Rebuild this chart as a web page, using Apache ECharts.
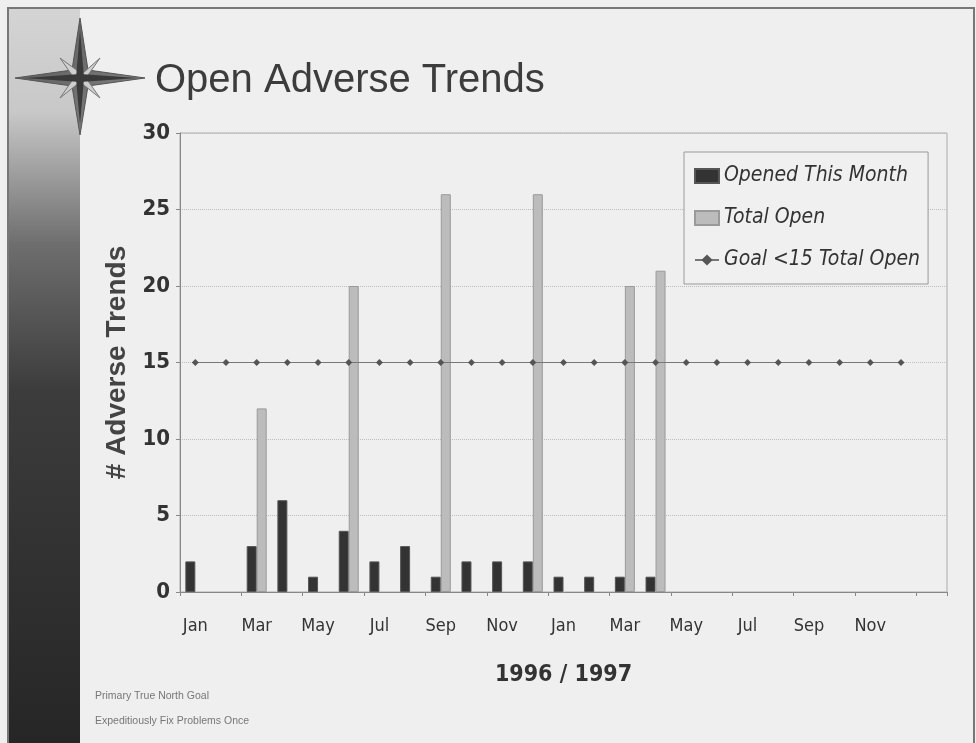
<!DOCTYPE html>
<html>
<head>
<meta charset="utf-8">
<script src="https://cdn.jsdelivr.net/npm/echarts@6/dist/echarts.min.js"></script>
<style>
html,body{margin:0;padding:0;background:#efefef;}
#chart{width:976px;height:743px;}
</style>
</head>
<body>
<div id="chart"></div>
<script>
// Data (Jan 1996 - Dec 1997, plus one empty slot)
const months = ['Jan','Feb','Mar','Apr','May','Jun','Jul','Aug','Sep','Oct','Nov','Dec',
                'Jan','Feb','Mar','Apr','May','Jun','Jul','Aug','Sep','Oct','Nov','Dec',''];
const openedThisMonth = [2,null,3,6,1,4,2,3,1,2,2,2, 1,1,1,1,null,null,null,null,null,null,null,null,null];
const totalOpen = [null,null,12,null,null,20,null,null,26,null,null,26, null,null,20,21,null,null,null,null,null,null,null,null,null];
const goal = [15,15,15,15,15,15,15,15,15,15,15,15, 15,15,15,15,15,15,15,15,15,15,15,15,null];
const yTicks = [0,5,10,15,20,25,30];

const narrow = '"Liberation Sans Narrow", "DejaVu Sans Condensed", "Liberation Sans", Arial, sans-serif';
const sans = '"Liberation Sans", Arial, sans-serif';

const chart = echarts.init(document.getElementById('chart'), null, {renderer:'canvas'});
chart.setOption({
  backgroundColor:'#efefef',
  animation:false,
  title:{
    text:'Open Adverse Trends',
    left:150, top:56,
    textStyle:{fontFamily:sans, fontSize:40, fontWeight:'normal', color:'#3c3c3c'}
  },
  graphic:[
    // outer frame
    {type:'rect', shape:{x:8,y:8,width:966,height:740}, style:{fill:null, stroke:'#777', lineWidth:2}, z:0},
    // left dark strip
    {type:'rect', shape:{x:9,y:9,width:71,height:734},
      style:{fill:new echarts.graphic.LinearGradient(0,0,0,1,[
        {offset:0,color:'#d4d4d4'},{offset:0.14,color:'#c8c8c8'},{offset:0.32,color:'#6e6e6e'},
        {offset:0.52,color:'#3c3c3c'},{offset:1,color:'#262626'}])}, z:0},
    // compass star
    {type:'polygon', shape:{points:[[80,18],[88,70],[145,78],[88,86],[80,135],[72,86],[15,78],[72,70]]},
      style:{fill:new echarts.graphic.LinearGradient(0,0,1,1,[{offset:0,color:'#555'},{offset:1,color:'#888'}]), stroke:'#555', lineWidth:1}, z:1},
    {type:'polygon', shape:{points:[[60,58],[82,74],[100,58],[86,78],[100,98],[80,82],[60,98],[74,78]]},
      style:{fill:'#cfcfcf', stroke:'#777', lineWidth:1}, z:2},
    {type:'polygon', shape:{points:[[80,30],[84,78],[80,125],[76,78]]}, style:{fill:'#3a3a3a'}, z:3},
    {type:'polygon', shape:{points:[[25,78],[80,74],[138,78],[80,82]]}, style:{fill:'#3a3a3a'}, z:3},
    // footnotes
    {type:'text', left:95, top:691, style:{text:'Primary True North Goal', font:'10.5px '+sans, fill:'#777'}},
    {type:'text', left:95, top:716, style:{text:'Expeditiously Fix Problems Once', font:'10.5px '+sans, fill:'#777'}}
  ],
  legend:{
    orient:'vertical',
    left:684, top:152,
    padding:[12,8,12,10],
    itemGap:18,
    itemWidth:24, itemHeight:14,
    borderColor:'#999', borderWidth:1,
    backgroundColor:'#f0f0f0',
    textStyle:{fontFamily:narrow, fontStyle:'italic', fontSize:21, color:'#333', lineHeight:24},
    data:[
      {name:'Opened This Month', icon:'rect'},
      {name:'Total Open', icon:'rect'},
      {name:'Goal <15 Total Open'}
    ]
  },
  grid:{left:180, right:29, top:133, bottom:151, show:true, borderColor:'#aaa', borderWidth:1, containLabel:false},
  xAxis:{
    type:'category',
    data:months,
    boundaryGap:true,
    name:'1996 / 1997',
    nameLocation:'middle',
    nameGap:72,
    nameTextStyle:{fontFamily:narrow, fontWeight:'bold', fontSize:23, color:'#333'},
    axisLine:{lineStyle:{color:'#888', width:1}},
    axisTick:{show:true, length:4, lineStyle:{color:'#888'}},
    axisLabel:{interval:1, margin:25, fontFamily:narrow, fontSize:18, color:'#333'},
    splitLine:{show:false}
  },
  yAxis:{
    type:'value',
    min:0, max:30, interval:5,
    name:'# Adverse Trends',
    nameLocation:'middle',
    nameGap:48,
    nameRotate:90,
    nameTextStyle:{fontFamily:sans, fontWeight:'bold', fontSize:28, color:'#444'},
    axisLine:{show:true, lineStyle:{color:'#888'}},
    axisTick:{show:true, length:4, lineStyle:{color:'#888'}},
    axisLabel:{margin:10, fontFamily:narrow, fontWeight:'bold', fontSize:22, color:'#333',
      formatter:function(v){return yTicks.indexOf(v)>=0 ? String(v) : '';}},
    splitLine:{show:true, lineStyle:{color:'#bdbdbd', type:'dotted', width:1}}
  },
  series:[
    {name:'Opened This Month', type:'bar', data:openedThisMonth, barWidth:10, barGap:'0%',
      itemStyle:{color:'#333', borderColor:'#555', borderWidth:1}},
    {name:'Total Open', type:'bar', data:totalOpen, barWidth:10, barGap:'0%',
      itemStyle:{color:'#bcbcbc', borderColor:'#9a9a9a', borderWidth:1}},
    {name:'Goal <15 Total Open', type:'line', data:goal, symbol:'diamond', symbolSize:7,
      showSymbol:true, connectNulls:false,
      itemStyle:{color:'#555'}, lineStyle:{color:'#777', width:1}, z:5}
  ]
});
</script>
</body>
</html>
